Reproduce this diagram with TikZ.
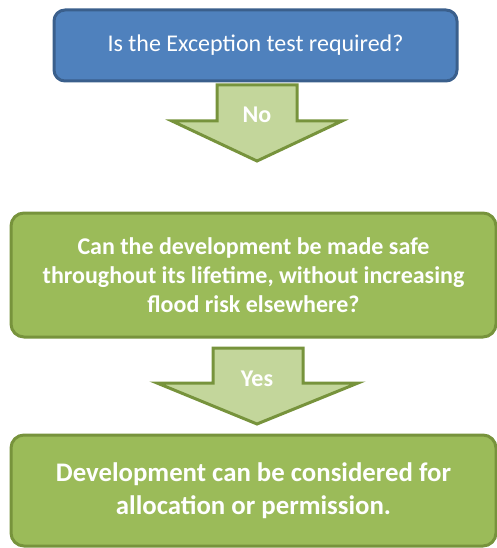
\documentclass[tikz,border=0pt]{standalone}
\usepackage{fontspec}
\setmainfont{Carlito}
\usetikzlibrary{positioning}

\definecolor{boxblue}{HTML}{4F81BD}
\definecolor{lineblue}{HTML}{3A5F8C}
\definecolor{boxgreen}{HTML}{9BBB59}
\definecolor{linegreen}{HTML}{77933C}
\definecolor{paleGreen}{HTML}{C3D69B}

\tikzset{
  questbox/.style={draw=lineblue, fill=boxblue, line width=3pt, rounded corners=11pt,
    minimum width=403pt, minimum height=71pt, text=white, font=\fontsize{24}{29}\selectfont},
  greenbox/.style={draw=linegreen, fill=boxgreen, line width=3pt, rounded corners=13pt,
    minimum width=485pt, text=white, align=center, font=\bfseries},
  blockarrow/.style={draw=linegreen, fill=paleGreen, line width=3pt, line join=miter},
  arrowlabel/.style={text=white, font=\bfseries\fontsize{24}{28}\selectfont}
}

\begin{document}
\begin{tikzpicture}[x=1pt,y=-1pt]
\useasboundingbox (0,0) rectangle (497,548);
\clip (0,0) rectangle (497,548);

% boxes
\node[questbox] (test) at (255.5,45.5) {Is the Exception test required?};
\node[greenbox, minimum height=124pt, font=\bfseries\fontsize{24}{29}\selectfont]
  (safe) at (253.5,275) {Can the development be made safe\\throughout its lifetime, without increasing\\flood risk elsewhere?};
\node[greenbox, minimum height=111pt, font=\bfseries\fontsize{26.8}{33}\selectfont]
  (allow) at (253.5,490.5) {Development can be considered for\\allocation or permission.};

% arrow: no
\draw[blockarrow] (217,85) -- (297,85) -- (297,121) -- (342,121) -- (257,161)
  -- (172,121) -- (217,121) -- cycle;
\node[arrowlabel] (no) at (257,115) {No};

% arrow: yes
\draw[blockarrow] (213,348) -- (303,348) -- (303,383) -- (358,383) -- (257,424)
  -- (157,383) -- (213,383) -- cycle;
\node[arrowlabel] (yes) at (257,379) {Yes};

\end{tikzpicture}
\end{document}
